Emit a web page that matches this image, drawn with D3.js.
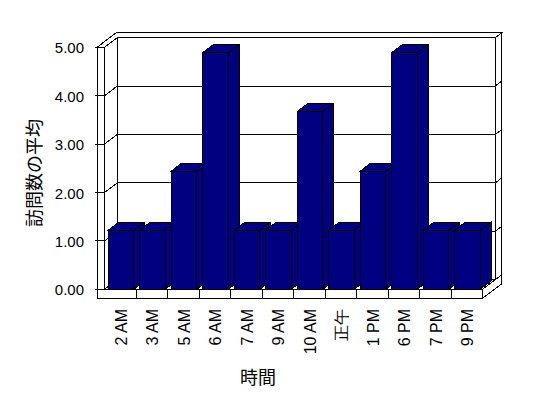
<!DOCTYPE html>
<html>
<head>
<meta charset="utf-8">
<title>訪問数の平均</title>
<script src="https://cdnjs.cloudflare.com/ajax/libs/d3/7.8.5/d3.min.js"></script>
<style>
  body { margin: 0; background: #fff; }
  svg { display: block; }
  .num { font-family: "Liberation Sans", Arial, sans-serif; fill: #000; }
  .title { font-family: "Noto Sans CJK JP", sans-serif; fill: #000; }
</style>
</head>
<body>
<div id="chart"></div>
<script>
var categories = ["2 AM", "3 AM", "5 AM", "6 AM", "7 AM", "9 AM", "10 AM", "正午", "1 PM", "6 PM", "7 PM", "9 PM"];
var values = [1.22, 1.22, 2.44, 4.89, 1.22, 1.22, 3.67, 1.22, 2.44, 4.89, 1.22, 1.22];
var yTicks = [0, 1, 2, 3, 4, 5];

var width = 548, height = 398;
var plotLeft = 104.5, plotRight = 482.5, plotTop = 47.3, plotBottom = 289.3;
var dx = 12.7, dy = -9.6;   // offset of the back wall
var wallT = 0.5;            // back wall thickness, in depth units
var wallW = 7.5;            // left wall thickness
var floorH = 9;
var barDepth = 0.85;

var x = d3.scaleBand().domain(categories).range([plotLeft, plotRight]);
var y = d3.scaleLinear().domain([0, 5]).range([plotBottom, plotTop]);
var bw = x.bandwidth();

// project a front-plane point back by depth z
function P(px, py, z) { return [px + z * dx, py + z * dy]; }

var svg = d3.select("#chart").append("svg")
    .attr("width", width)
    .attr("height", height);

function poly(pts, fill) {
    return svg.append("polygon")
        .attr("points", pts.map(function(p) { return p.join(","); }).join(" "))
        .attr("fill", fill)
        .attr("stroke", "#000")
        .attr("stroke-width", 1)
        .attr("shape-rendering", "crispEdges");
}
function line(a, b) {
    return svg.append("line")
        .attr("x1", a[0]).attr("y1", a[1])
        .attr("x2", b[0]).attr("y2", b[1])
        .attr("stroke", "#000")
        .attr("shape-rendering", "crispEdges");
}

var x0 = plotLeft, x1 = plotRight, y0 = y(0), y5 = y(5), yb = plotBottom + floorH;
var xw = x0 - wallW;

// back wall, left wall, floor
poly([P(x0, y5, 1), P(x1, y5, 1), P(x1, y0, 1), P(x0, y0, 1)], "#fff");
poly([P(x0, y5, 0), P(x0, y5, 1), P(x0, y0, 1), P(x0, y0, 0)], "#fff");
poly([P(x0, y0, 0), P(x1, y0, 0), P(x1, y0, 1), P(x0, y0, 1)], "#fff");

// gridlines
yTicks.forEach(function(v) {
    if (v > 0 && v < 5) {
        line(P(x0, y(v), 1), P(x1, y(v), 1));
        line(P(x0, y(v), 0), P(x0, y(v), 1));
    }
});

// top of the walls
poly([P(xw, y5, 0), P(x0, y5, 0), P(x0, y5, 1), P(x1, y5, 1),
      P(x1, y5, 1 + wallT), P(xw, y5, 1 + wallT)], "#fff");

// right side of back wall + floor
poly([P(x1, y0, 0), P(x1, y0, 1), P(x1, y5, 1), P(x1, y5, 1 + wallT),
      P(x1, yb, 1 + wallT), P(x1, yb, 0)], "#fff");
yTicks.forEach(function(v) {
    if (v < 5) line(P(x1, y(v), 1), P(x1, y(v), 1 + wallT));
});

// front faces of left wall and floor
poly([[xw, y5], [x0, y5], [x0, y0], [x1, y0], [x1, yb], [xw, yb]], "#fff");
yTicks.forEach(function(v) {
    line([xw - 2, y(v)], [x0, y(v)]);
});
categories.slice(1).forEach(function(c) {
    line([x(c), y0], [x(c), yb]);
});

// bars, left to right
categories.forEach(function(c, i) {
    var xl = x(c) + bw * 0.115, xr = xl + bw * 0.815, yt = y(values[i]);
    poly([[xl, yt], [xr, yt], P(xr, yt, barDepth), P(xl, yt, barDepth)], "#000080");
    poly([[xr, yt], P(xr, yt, barDepth), P(xr, y0, barDepth), [xr, y0]], "#000080");
    poly([[xl, yt], [xr, yt], [xr, y0], [xl, y0]], "#000080");
});

// y tick labels
svg.selectAll(".ylab")
    .data(yTicks)
    .enter().append("text")
    .attr("class", "num")
    .attr("x", 84)
    .attr("y", function(d) { return y(d) + 0.5; })
    .attr("text-anchor", "end")
    .attr("dominant-baseline", "central")
    .style("font-size", "15px")
    .text(function(d) { return d3.format(".2f")(d); });

// x tick labels
svg.selectAll(".xlab")
    .data(categories)
    .enter().append("text")
    .attr("class", "num")
    .attr("transform", function(d) {
        return "translate(" + (x(d) + bw / 2 + 1) + ",309) rotate(-90)";
    })
    .attr("text-anchor", "end")
    .attr("dominant-baseline", "central")
    .style("font-size", "16px")
    .text(function(d) { return d; });

// axis titles
svg.append("text")
    .attr("class", "title")
    .attr("transform", "translate(33,173) rotate(-90)")
    .attr("text-anchor", "middle")
    .attr("dominant-baseline", "central")
    .style("font-size", "18px")
    .text("訪問数の平均");

svg.append("text")
    .attr("class", "title")
    .attr("x", 258)
    .attr("y", 376)
    .attr("text-anchor", "middle")
    .attr("dominant-baseline", "central")
    .style("font-size", "18px")
    .text("時間");
</script>
</body>
</html>
